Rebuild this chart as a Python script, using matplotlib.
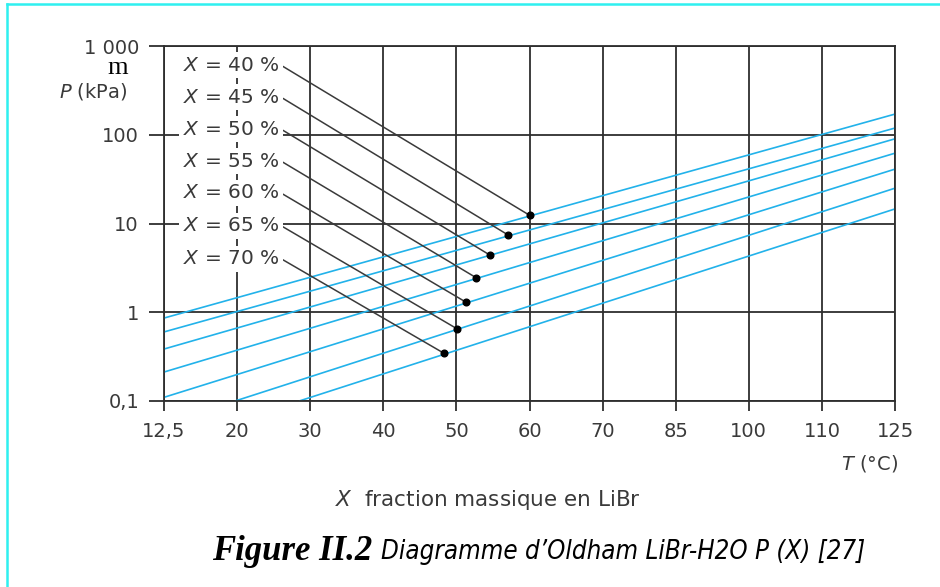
import numpy as np
import matplotlib
matplotlib.use("Agg")
import matplotlib.pyplot as plt
from matplotlib.lines import Line2D

plt.rcParams['font.family'] = ['DejaVu Sans']
plt.rcParams['mathtext.fontset'] = 'custom'
plt.rcParams['mathtext.rm'] = 'DejaVu Sans'
plt.rcParams['mathtext.it'] = 'DejaVu Sans:italic'

# ---- data ----
t_ticks = [12.5, 20, 30, 40, 50, 60, 70, 85, 100, 110, 125]
t_tick_labels = ['12,5', '20', '30', '40', '50', '60', '70', '85', '100', '110', '125']
p_ticks = [0.1, 1, 10, 100, 1000]
p_tick_labels = ['0,1', '1', '10', '100', '1 000']

fractions = [40, 45, 50, 55, 60, 65, 70]            # X (%)
t_start = [12.5, 12.5, 12.5, 12.5, 12.5, 19.8, 28.5]  # degC
p_start = [0.86, 0.60, 0.385, 0.212, 0.11, 0.10, 0.10]  # kPa
t_end = [125, 125, 125, 125, 125, 125, 125]
p_end = [171, 119, 90, 62, 41, 25, 14.6]

dot_t = [60, 57.1, 54.6, 52.7, 51.3, 50.1, 48.3]
dot_p = [12.4, 7.4, 4.4, 2.45, 1.3, 0.65, 0.345]

# ---- figure ----
fig = plt.figure(figsize=(9.4, 5.87), dpi=100)
ax = fig.add_axes([164/940, 1-401/587, 731/940, 355/587])

idx = np.arange(len(t_ticks), dtype=float)
def fwd(t):
    return np.interp(t, t_ticks, idx)
def inv(i):
    return np.interp(i, idx, t_ticks)

ax.set_xscale('function', functions=(fwd, inv))
ax.set_yscale('log')
ax.set_xlim(t_ticks[0], t_ticks[-1])
ax.set_ylim(p_ticks[0], p_ticks[-1])
ax.set_xticks(t_ticks)
ax.set_xticklabels(t_tick_labels)
ax.set_yticks(p_ticks)
ax.set_yticklabels(p_tick_labels)
ax.yaxis.set_minor_locator(matplotlib.ticker.NullLocator())
ax.xaxis.set_minor_locator(matplotlib.ticker.NullLocator())

gcol = '#2e2e2e'
tcol = '#3a3a3a'
ax.grid(True, color=gcol, linewidth=1.3)
for s in ax.spines.values():
    s.set_color(gcol)
    s.set_linewidth(1.3)
ax.tick_params(axis='y', direction='out', length=11, width=1.3, color=gcol,
               pad=7, labelsize=14, labelcolor=tcol)
ax.tick_params(axis='x', direction='out', length=7, width=1.3, color=gcol,
               pad=8, labelsize=14, labelcolor=tcol)

cyan = '#22b2ea'
for ts, ps, te, pe in zip(t_start, p_start, t_end, p_end):
    ax.plot([ts, te], [ps, pe], color=cyan, lw=1.2, zorder=2, solid_capstyle='butt')

label_y = [0.946, 0.856, 0.766, 0.676, 0.586, 0.494, 0.401]
for frac, ly, dt, dp in zip(fractions, label_y, dot_t, dot_p):
    ax.annotate(r'$\mathit{X}$ = %d %%' % frac, xy=(dt, dp), xycoords='data',
                xytext=(0.026, ly), textcoords='axes fraction',
                ha='left', va='center', fontsize=14.5, color=tcol,
                bbox=dict(boxstyle='square,pad=0.18', fc='white', ec='none'),
                arrowprops=dict(arrowstyle='-', color='#3a3a3a', lw=1.1,
                                shrinkA=0, shrinkB=0, relpos=(1.0, 0.55)),
                zorder=4)
ax.plot(dot_t, dot_p, 'o', color='black', markersize=4.8, zorder=5)

# ---- texts ----
fig.text(118/940, 1-68/587, 'm', family='Liberation Serif', fontsize=19,
         ha='center', va='center', color='black')
fig.text(128/940, 1-92/587, r'$\mathit{P}$ (kPa)', fontsize=14,
         ha='right', va='center', color=tcol)
fig.text(898/940, 1-463/587, r'$\mathit{T}$ (°C)', fontsize=14,
         ha='right', va='center', color=tcol)
fig.text(488/940, 1-500/587, r'$\mathit{X}$  fraction massique en LiBr', fontsize=15.5,
         ha='center', va='center', color=tcol)

fig.text(372/940, 1-552/587, 'Figure II.2', family='Liberation Serif',
         fontsize=25, fontweight='bold', style='italic', ha='right', va='center',
         color='black')
fig.text(381/940, 1-552/587, "Diagramme d\u2019Oldham LiBr-H2O P (X) [27]",
         family='DejaVu Sans', fontstretch='condensed', fontsize=18.5,
         style='italic', ha='left', va='center', color='black')

# cyan frame
bcol = '#2ff0f0'
fig.add_artist(Line2D([7/940, 7/940], [0, 1-4/587], transform=fig.transFigure,
                      color=bcol, lw=1.8))
fig.add_artist(Line2D([7/940, 1], [1-4/587, 1-4/587], transform=fig.transFigure,
                      color=bcol, lw=1.8))

fig.savefig('out.png', dpi=100)
